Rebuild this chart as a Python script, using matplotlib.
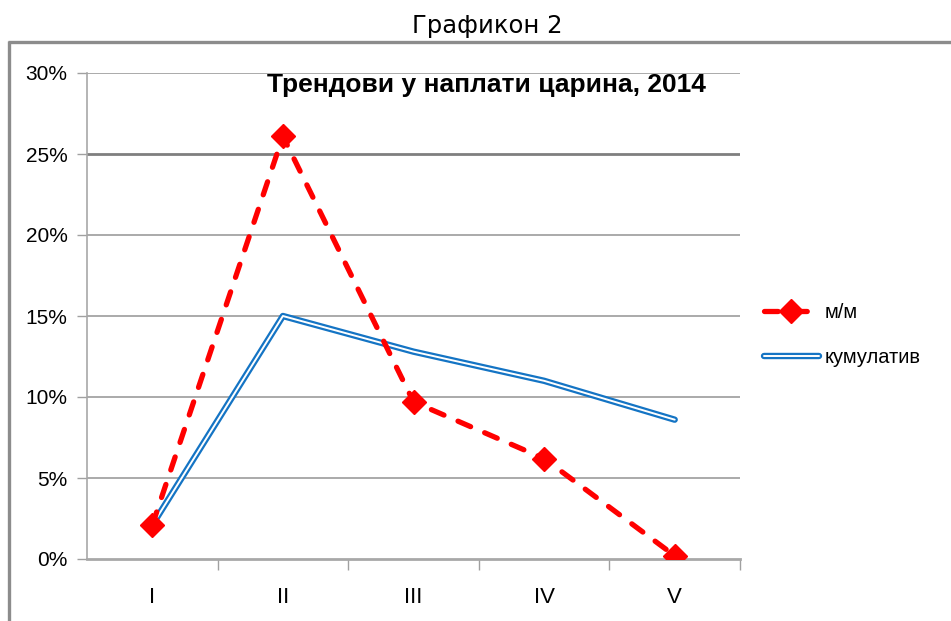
import matplotlib
matplotlib.use("Agg")
import matplotlib.pyplot as plt
import matplotlib.patheffects as pe
from matplotlib.lines import Line2D
from matplotlib.ticker import FuncFormatter, FixedLocator

categories = ["I", "II", "III", "IV", "V"]
mm_values = [2.1, 26.1, 9.7, 6.2, 0.2]
cum_values = [2.1, 15.0, 12.8, 11.0, 8.6]
yticks = [0, 5, 10, 15, 20, 25, 30]

W, H = 951, 621
fig = plt.figure(figsize=(W / 100, H / 100), dpi=100)
fig.patch.set_facecolor("white")

FONT = ["Liberation Sans", "DejaVu Sans"]

# outer chart frame (top and left edges only visible)
fig.add_artist(Line2D([8 / W, 1.0], [1 - 41.5 / H, 1 - 41.5 / H], transform=fig.transFigure,
                      color="#8c8c8c", linewidth=2.4, solid_capstyle="butt"))
fig.add_artist(Line2D([9 / W, 9 / W], [1 - 40.5 / H, 0], transform=fig.transFigure,
                      color="#8c8c8c", linewidth=2.4, solid_capstyle="butt"))

fig.text(487 / W, 1 - 26 / H, "Графикон 2", ha="center", va="center",
         fontsize=17.5, family="DejaVu Sans")

ax = fig.add_axes([87 / W, 1 - 559 / H, (740 - 87) / W, (559 - 73) / H])
x = list(range(len(categories)))

ax.plot(x, mm_values, color="#ff0000", linestyle=(0, (2.6, 2.9)), linewidth=3.8,
        dash_capstyle="round", marker="D", markersize=12, label="м/м", zorder=4)
ax.plot(x, cum_values, color="white", linewidth=1.4, label="кумулатив", zorder=3,
        solid_joinstyle="round", solid_capstyle="round",
        path_effects=[pe.Stroke(linewidth=4.6, foreground="#1474c4"), pe.Normal()])

ax.set_xlim(-0.5, len(categories) - 0.5)
ax.set_ylim(0, 30)
ax.set_yticks(yticks)
ax.yaxis.set_major_formatter(FuncFormatter(lambda v, p: f"{int(v)}%"))
ax.set_xticks(x)
ax.set_xticklabels(categories)
ax.xaxis.set_minor_locator(FixedLocator([i + 0.5 for i in x]))
ax.tick_params(axis="x", which="major", length=0, pad=20, labelsize=16)
ax.tick_params(axis="x", which="minor", length=8, color="#a0a0a0", width=1, direction="out")
ax.tick_params(axis="y", length=7, color="#a0a0a0", width=1, labelsize=15, pad=7)
for lab in ax.get_xticklabels() + ax.get_yticklabels():
    lab.set_family(FONT)

for v in yticks[1:]:
    ax.axhline(v, color="#7f7f7f" if v == 25 else "#9c9c9c",
               linewidth=2.0 if v == 25 else 1.2, zorder=1)

for s in ["top", "right"]:
    ax.spines[s].set_visible(False)
ax.spines["left"].set_color("#a8a8a8")
ax.spines["bottom"].set_color("#a8a8a8")
ax.spines["left"].set_linewidth(1.2)
ax.spines["bottom"].set_linewidth(2.0)

fig.text(486 / W, 1 - 85 / H, "Трендови у наплати царина, 2014", ha="center", va="center",
         fontsize=19, fontweight="bold", family=FONT)

leg = ax.legend(loc="center left", bbox_to_anchor=(746 / W, 1 - 335 / H),
                bbox_transform=fig.transFigure, frameon=False,
                handlelength=2.7, labelspacing=1.3, handletextpad=0.3,
                borderpad=0.4, prop={"family": FONT, "size": 14.5})

fig.savefig("out.png", dpi=100)
